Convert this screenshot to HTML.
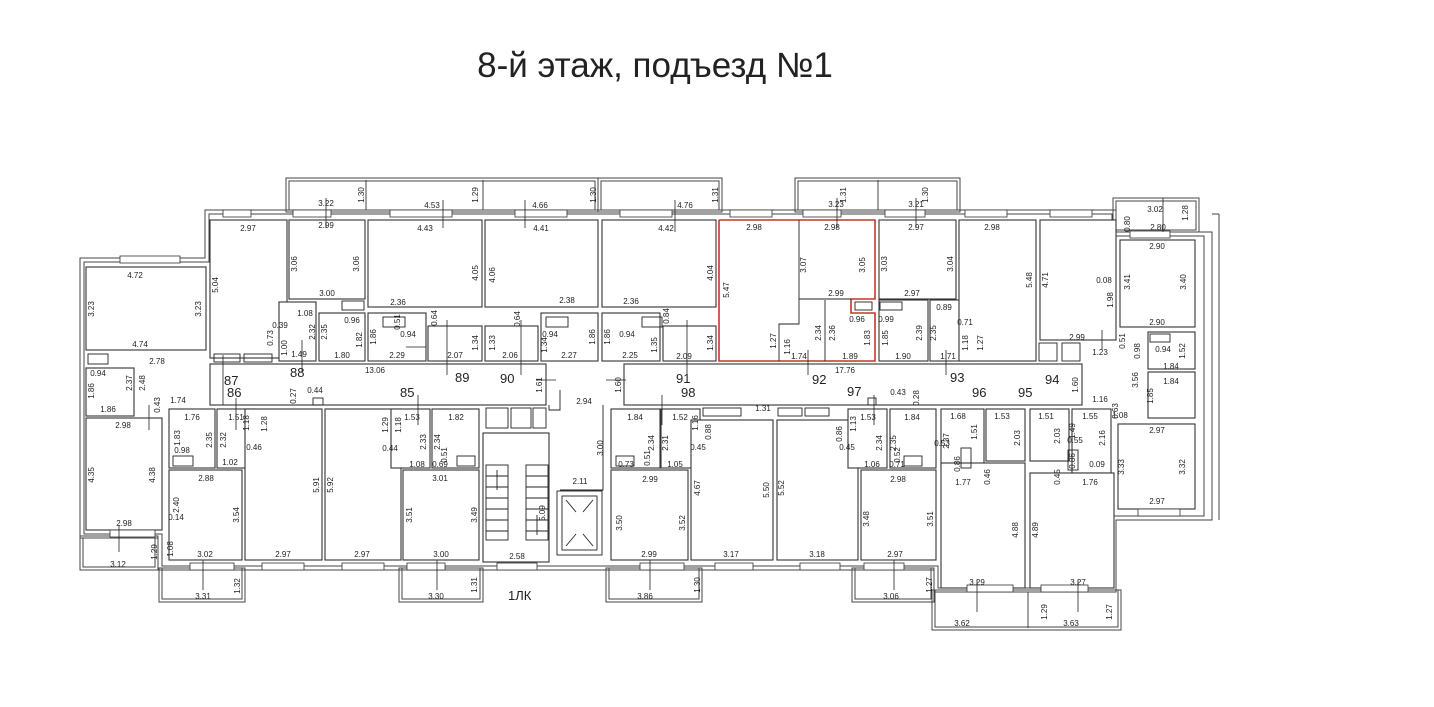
<!DOCTYPE html>
<html><head><meta charset="utf-8"><style>
html,body{margin:0;padding:0;background:#fff;}
svg{display:block;}
text{font-family:"Liberation Sans",sans-serif;fill:#222;}
.d{font-size:8px;}
.n{font-size:13px;}
.r{fill:#fff;stroke:#333;stroke-width:1.1;}
.w{fill:none;stroke:#444;stroke-width:1;}
.t{fill:none;stroke:#222;stroke-width:0.9;}
</style></head><body>
<svg width="1434" height="707" viewBox="0 0 1434 707" xmlns="http://www.w3.org/2000/svg">
<text x="655" y="77" font-size="35" text-anchor="middle">8-й этаж, подъезд №1</text>

<!-- balconies -->
<g class="w">
<rect x="286" y="178" width="312" height="34"/><rect x="289" y="181" width="306" height="29"/>
<line x1="366" y1="180" x2="366" y2="210"/><line x1="483" y1="180" x2="483" y2="210"/>
<rect x="598" y="178" width="124" height="34"/><rect x="601" y="181" width="118" height="29"/>
<rect x="795" y="178" width="165" height="34"/><rect x="798" y="181" width="159" height="29"/><line x1="878" y1="180" x2="878" y2="210"/>
<rect x="1113" y="198" width="86" height="34"/><rect x="1116" y="201" width="80" height="29"/>
<rect x="80" y="536" width="78" height="34"/><rect x="83" y="538" width="72" height="29"/>
<rect x="159" y="568" width="86" height="34"/><rect x="162" y="568" width="80" height="31"/>
<rect x="399" y="568" width="84" height="34"/><rect x="402" y="568" width="78" height="31"/>
<rect x="606" y="568" width="96" height="34"/><rect x="609" y="568" width="90" height="31"/>
<rect x="852" y="568" width="82" height="34"/><rect x="855" y="568" width="76" height="31"/>
<rect x="932" y="590" width="189" height="40"/><rect x="935" y="590" width="183" height="37"/><line x1="1028" y1="592" x2="1028" y2="628"/>
</g>

<!-- building outline -->
<polygon class="w" points="205,210 1116,210 1116,232 1212,232 1212,520 1116,520 1116,592 934,592 934,570 158,570 158,538 80,538 80,258 205,258"/>
<polygon class="w" points="209,214 1112,214 1112,236 1204,236 1204,516 1112,516 1112,588 938,588 938,566 162,566 162,534 84,534 84,262 209,262"/>
<line class="w" x1="1212" y1="214" x2="1219" y2="214"/>
<line class="w" x1="1219" y1="214" x2="1219" y2="520"/>

<!-- rooms -->
<g class="r">
<rect x="86" y="267" width="120" height="83"/>
<rect x="86" y="368" width="48" height="48"/>
<rect x="86" y="418" width="76" height="112"/>
<rect x="210" y="220" width="77" height="138"/>
<rect x="289" y="220" width="76" height="79"/>
<rect x="368" y="220" width="114" height="87"/>
<rect x="485" y="220" width="113" height="87"/>
<rect x="602" y="220" width="114" height="87"/>
<rect x="279" y="302" width="37" height="59"/>
<rect x="319" y="313" width="46" height="48"/>
<rect x="368" y="313" width="58" height="48"/>
<rect x="428" y="326" width="54" height="35"/>
<rect x="485" y="326" width="53" height="35"/>
<rect x="541" y="313" width="57" height="48"/>
<rect x="602" y="313" width="58" height="48"/>
<rect x="663" y="326" width="53" height="35"/>
<rect x="879" y="220" width="77" height="79"/>
<rect x="879" y="300" width="49" height="61"/>
<rect x="930" y="300" width="45" height="61"/>
<rect x="959" y="220" width="77" height="141"/>
<rect x="1040" y="220" width="76" height="120"/>
<rect x="1120" y="240" width="75" height="87"/>
<rect x="1148" y="332" width="47" height="37"/>
<rect x="1148" y="372" width="47" height="46"/>
<rect x="1118" y="424" width="77" height="85"/>
<!-- corridor -->
<rect x="210" y="364" width="336" height="41"/>
<rect x="624" y="364" width="458" height="41"/>
<!-- lower -->
<rect x="169" y="409" width="46" height="59"/>
<rect x="217" y="409" width="38" height="59"/>
<rect x="169" y="470" width="73" height="90"/>
<rect x="245" y="409" width="77" height="151"/>
<rect x="325" y="409" width="76" height="151"/>
<rect x="391" y="409" width="39" height="59"/>
<rect x="432" y="409" width="47" height="59"/>
<rect x="403" y="470" width="76" height="90"/>
<rect x="483" y="433" width="66" height="129"/>
<rect x="611" y="409" width="49" height="59"/>
<rect x="661" y="409" width="39" height="59"/>
<rect x="611" y="470" width="77" height="90"/>
<rect x="691" y="420" width="82" height="140"/>
<rect x="777" y="420" width="81" height="140"/>
<rect x="848" y="409" width="39" height="59"/>
<rect x="890" y="409" width="46" height="59"/>
<rect x="861" y="470" width="75" height="90"/>
<rect x="941" y="409" width="43" height="59"/>
<rect x="986" y="409" width="39" height="52"/>
<rect x="941" y="463" width="84" height="125"/>
<rect x="1030" y="409" width="39" height="52"/>
<rect x="1072" y="409" width="39" height="64"/>
<rect x="1030" y="473" width="84" height="115"/>
</g>
<!-- red room -->
<g fill="none" stroke="#c0392b" stroke-width="1.6">
<polyline points="719,220 875,220 875,299 851,299 851,313 875,313 875,361 719,361 719,220"/>
</g>
<g class="t">
<line x1="799" y1="220" x2="799" y2="299"/><line x1="799" y1="299" x2="851" y2="299"/>
<polyline points="799,299 799,324 779,324 779,361"/>
<line x1="825" y1="300" x2="825" y2="361"/>
<rect x="88" y="354" width="20" height="10"/><rect x="214" y="354" width="26" height="8"/><rect x="244" y="354" width="28" height="8"/>
<rect x="342" y="301" width="22" height="9"/><rect x="383" y="317" width="22" height="10"/><rect x="546" y="317" width="22" height="10"/><rect x="642" y="317" width="20" height="10"/>
<rect x="855" y="302" width="17" height="8"/><rect x="880" y="302" width="22" height="8"/>
<rect x="1039" y="343" width="18" height="18"/><rect x="1062" y="343" width="18" height="18"/>
<rect x="1150" y="334" width="20" height="8"/>
<rect x="486" y="408" width="22" height="20"/><rect x="511" y="408" width="20" height="20"/><rect x="533" y="408" width="13" height="20"/>
<rect x="703" y="408" width="38" height="8"/><rect x="778" y="408" width="24" height="8"/><rect x="805" y="408" width="24" height="8"/>
<rect x="173" y="456" width="20" height="10"/><rect x="457" y="456" width="18" height="10"/><rect x="616" y="456" width="18" height="10"/><rect x="904" y="456" width="18" height="10"/>
<rect x="961" y="448" width="10" height="20"/><rect x="1068" y="450" width="10" height="20"/>
<rect x="313" y="398" width="10" height="7"/><rect x="868" y="398" width="8" height="7"/>
<rect x="486" y="465" width="22" height="75"/><rect x="526" y="465" width="22" height="75"/>
<line x1="486" y1="476" x2="508" y2="476"/><line x1="486" y1="487" x2="508" y2="487"/><line x1="486" y1="498" x2="508" y2="498"/><line x1="486" y1="509" x2="508" y2="509"/><line x1="486" y1="520" x2="508" y2="520"/><line x1="486" y1="531" x2="508" y2="531"/>
<line x1="526" y1="476" x2="548" y2="476"/><line x1="526" y1="487" x2="548" y2="487"/><line x1="526" y1="498" x2="548" y2="498"/><line x1="526" y1="509" x2="548" y2="509"/><line x1="526" y1="520" x2="548" y2="520"/><line x1="526" y1="531" x2="548" y2="531"/>
<line x1="497" y1="470" x2="497" y2="490"/><line x1="537" y1="515" x2="537" y2="535"/>
<polyline points="549,405 549,410 560,410 560,390"/><polyline points="603,405 603,490 560,490"/>
<rect x="557" y="491" width="45" height="64"/><rect x="562" y="496" width="35" height="54"/>
<line x1="566" y1="500" x2="576" y2="512"/><line x1="593" y1="500" x2="583" y2="512"/><line x1="566" y1="546" x2="576" y2="534"/><line x1="593" y1="546" x2="583" y2="534"/>
</g>
<g fill="#fff" stroke="#333" stroke-width="0.8">
<rect x="120" y="256" width="60" height="7"/><rect x="223" y="210" width="28" height="7"/><rect x="293" y="210" width="38" height="7"/><rect x="390" y="210" width="62" height="7"/>
<rect x="515" y="210" width="52" height="7"/><rect x="620" y="210" width="52" height="7"/><rect x="730" y="210" width="42" height="7"/><rect x="803" y="210" width="38" height="7"/>
<rect x="885" y="210" width="40" height="7"/><rect x="965" y="210" width="42" height="7"/><rect x="1050" y="210" width="42" height="7"/><rect x="1130" y="231" width="40" height="7"/>
<rect x="110" y="530" width="45" height="7"/><rect x="190" y="563" width="44" height="7"/><rect x="262" y="563" width="42" height="7"/><rect x="342" y="563" width="42" height="7"/>
<rect x="407" y="563" width="38" height="7"/><rect x="497" y="563" width="40" height="7"/><rect x="640" y="563" width="44" height="7"/><rect x="715" y="563" width="38" height="7"/>
<rect x="800" y="563" width="40" height="7"/><rect x="864" y="563" width="40" height="7"/><rect x="967" y="585" width="46" height="7"/><rect x="1041" y="585" width="47" height="7"/>
<rect x="1138" y="509" width="42" height="7"/>
</g>
<g stroke="#222" stroke-width="0.8">
<line x1="326" y1="198" x2="326" y2="228"/><line x1="443" y1="200" x2="443" y2="228"/><line x1="525" y1="200" x2="525" y2="228"/><line x1="675" y1="200" x2="675" y2="232"/>
<line x1="837" y1="198" x2="837" y2="228"/><line x1="916" y1="198" x2="916" y2="228"/><line x1="1163" y1="198" x2="1163" y2="232"/>
<line x1="223" y1="355" x2="223" y2="405"/><line x1="302" y1="340" x2="302" y2="372"/><line x1="447" y1="320" x2="447" y2="375"/><line x1="521" y1="320" x2="521" y2="375"/>
<line x1="687" y1="320" x2="687" y2="375"/><line x1="808" y1="350" x2="808" y2="375"/><line x1="946" y1="350" x2="946" y2="375"/><line x1="1102" y1="330" x2="1102" y2="350"/>
<line x1="149" y1="405" x2="149" y2="430"/><line x1="236" y1="398" x2="236" y2="430"/><line x1="418" y1="395" x2="418" y2="425"/><line x1="662" y1="395" x2="662" y2="425"/><line x1="874" y1="395" x2="874" y2="425"/>
<line x1="119" y1="525" x2="119" y2="552"/><line x1="203" y1="560" x2="203" y2="590"/><line x1="437" y1="560" x2="437" y2="590"/><line x1="650" y1="560" x2="650" y2="590"/><line x1="894" y1="560" x2="894" y2="590"/>
<line x1="977" y1="580" x2="977" y2="612"/><line x1="1078" y1="580" x2="1078" y2="612"/>
<line x1="406" y1="347" x2="426" y2="347"/><line x1="536" y1="380" x2="556" y2="380"/><line x1="606" y1="380" x2="626" y2="380"/>
</g>

<g class="n">
<text x="224" y="385">87</text><text x="227" y="397">86</text><text x="290" y="377">88</text><text x="400" y="397">85</text>
<text x="455" y="382">89</text><text x="500" y="383">90</text><text x="676" y="383">91</text><text x="681" y="397">98</text>
<text x="812" y="384">92</text><text x="847" y="396">97</text><text x="950" y="382">93</text><text x="972" y="397">96</text>
<text x="1018" y="397">95</text><text x="1045" y="384">94</text>
<text x="508" y="600">1ЛК</text>
</g>
<g class="d" text-anchor="middle">
<text x="135" y="278">4.72</text><text x="140" y="347">4.74</text><text x="98" y="376">0.94</text><text x="108" y="412">1.86</text><text x="157" y="364">2.78</text><text x="178" y="403">1.74</text>
<text x="123" y="428">2.98</text><text x="124" y="526">2.98</text><text x="118" y="567">3.12</text>
<text x="248" y="231">2.97</text><text x="326" y="206">3.22</text><text x="326" y="228">2.99</text><text x="327" y="296">3.00</text>
<text x="432" y="208">4.53</text><text x="425" y="231">4.43</text><text x="398" y="305">2.36</text><text x="540" y="208">4.66</text><text x="541" y="231">4.41</text><text x="567" y="303">2.38</text>
<text x="685" y="208">4.76</text><text x="666" y="231">4.42</text><text x="631" y="304">2.36</text>
<text x="305" y="316">1.08</text><text x="352" y="323">0.96</text><text x="280" y="328">0.39</text><text x="299" y="357">1.49</text><text x="342" y="358">1.80</text>
<text x="408" y="337">0.94</text><text x="397" y="358">2.29</text><text x="455" y="358">2.07</text><text x="510" y="358">2.06</text><text x="550" y="337">0.94</text><text x="569" y="358">2.27</text>
<text x="627" y="337">0.94</text><text x="630" y="358">2.25</text><text x="684" y="359">2.09</text><text x="375" y="373">13.06</text>
<text x="754" y="230">2.98</text><text x="832" y="230">2.98</text><text x="836" y="207">3.23</text><text x="836" y="296">2.99</text><text x="857" y="322">0.96</text><text x="799" y="359">1.74</text><text x="850" y="359">1.89</text><text x="845" y="373">17.76</text>
<text x="916" y="207">3.21</text><text x="916" y="230">2.97</text><text x="912" y="296">2.97</text><text x="886" y="322">0.99</text><text x="944" y="310">0.89</text><text x="965" y="325">0.71</text><text x="903" y="359">1.90</text><text x="948" y="359">1.71</text>
<text x="992" y="230">2.98</text><text x="1077" y="340">2.99</text><text x="1104" y="283">0.08</text><text x="1100" y="355">1.23</text>
<text x="1155" y="212">3.02</text><text x="1158" y="230">2.80</text><text x="1157" y="249">2.90</text><text x="1157" y="325">2.90</text><text x="1163" y="352">0.94</text><text x="1171" y="369">1.84</text><text x="1171" y="384">1.84</text><text x="1100" y="402">1.16</text><text x="1120" y="418">1.08</text><text x="1157" y="433">2.97</text><text x="1157" y="504">2.97</text>
<text x="192" y="420">1.76</text><text x="236" y="420">1.51</text><text x="182" y="453">0.98</text><text x="230" y="465">1.02</text><text x="254" y="450">0.46</text><text x="206" y="481">2.88</text><text x="176" y="520">0.14</text><text x="205" y="557">3.02</text><text x="203" y="599">3.31</text>
<text x="283" y="557">2.97</text><text x="362" y="557">2.97</text><text x="315" y="393">0.44</text><text x="412" y="420">1.53</text><text x="456" y="420">1.82</text><text x="390" y="451">0.44</text><text x="417" y="467">1.08</text><text x="440" y="467">0.69</text><text x="440" y="481">3.01</text><text x="441" y="557">3.00</text><text x="436" y="599">3.30</text>
<text x="584" y="404">2.94</text><text x="580" y="484">2.11</text><text x="517" y="559">2.58</text>
<text x="635" y="420">1.84</text><text x="680" y="420">1.52</text><text x="626" y="467">0.73</text><text x="675" y="467">1.05</text><text x="698" y="450">0.45</text><text x="650" y="482">2.99</text><text x="649" y="557">2.99</text><text x="645" y="599">3.86</text>
<text x="731" y="557">3.17</text><text x="817" y="557">3.18</text><text x="763" y="411">1.31</text><text x="868" y="420">1.53</text><text x="912" y="420">1.84</text><text x="847" y="450">0.45</text><text x="872" y="467">1.06</text><text x="897" y="467">0.71</text><text x="898" y="482">2.98</text><text x="895" y="557">2.97</text><text x="891" y="599">3.06</text>
<text x="898" y="395">0.43</text><text x="958" y="419">1.68</text><text x="1002" y="419">1.53</text><text x="942" y="446">0.53</text><text x="963" y="485">1.77</text><text x="977" y="585">3.29</text><text x="962" y="626">3.62</text>
<text x="1046" y="419">1.51</text><text x="1090" y="419">1.55</text><text x="1075" y="443">0.55</text><text x="1097" y="467">0.09</text><text x="1090" y="485">1.76</text><text x="1078" y="585">3.27</text><text x="1071" y="626">3.63</text>
</g>
<g class="d" text-anchor="middle">
<text transform="translate(94,309) rotate(-90)">3.23</text><text transform="translate(201,309) rotate(-90)">3.23</text>
<text transform="translate(94,391) rotate(-90)">1.86</text><text transform="translate(132,383) rotate(-90)">2.37</text><text transform="translate(145,383) rotate(-90)">2.48</text><text transform="translate(160,405) rotate(-90)">0.43</text>
<text transform="translate(94,475) rotate(-90)">4.35</text><text transform="translate(155,475) rotate(-90)">4.38</text><text transform="translate(157,552) rotate(-90)">1.29</text>
<text transform="translate(218,285) rotate(-90)">5.04</text><text transform="translate(297,264) rotate(-90)">3.06</text><text transform="translate(359,264) rotate(-90)">3.06</text><text transform="translate(364,195) rotate(-90)">1.30</text>
<text transform="translate(273,338) rotate(-90)">0.73</text><text transform="translate(287,348) rotate(-90)">1.00</text><text transform="translate(315,332) rotate(-90)">2.32</text><text transform="translate(327,332) rotate(-90)">2.35</text><text transform="translate(362,340) rotate(-90)">1.82</text>
<text transform="translate(478,195) rotate(-90)">1.29</text><text transform="translate(478,273) rotate(-90)">4.05</text><text transform="translate(376,337) rotate(-90)">1.86</text><text transform="translate(400,322) rotate(-90)">0.51</text><text transform="translate(437,318) rotate(-90)">0.64</text><text transform="translate(478,343) rotate(-90)">1.34</text>
<text transform="translate(495,275) rotate(-90)">4.06</text><text transform="translate(495,343) rotate(-90)">1.33</text><text transform="translate(520,319) rotate(-90)">0.64</text><text transform="translate(547,345) rotate(-90)">1.34</text><text transform="translate(595,337) rotate(-90)">1.86</text><text transform="translate(596,195) rotate(-90)">1.30</text>
<text transform="translate(610,337) rotate(-90)">1.86</text><text transform="translate(657,345) rotate(-90)">1.35</text><text transform="translate(669,316) rotate(-90)">0.84</text><text transform="translate(713,343) rotate(-90)">1.34</text><text transform="translate(713,273) rotate(-90)">4.04</text><text transform="translate(718,195) rotate(-90)">1.31</text>
<text transform="translate(729,290) rotate(-90)">5.47</text><text transform="translate(806,265) rotate(-90)">3.07</text><text transform="translate(865,265) rotate(-90)">3.05</text><text transform="translate(846,195) rotate(-90)">1.31</text><text transform="translate(776,341) rotate(-90)">1.27</text><text transform="translate(790,347) rotate(-90)">1.16</text><text transform="translate(821,333) rotate(-90)">2.34</text><text transform="translate(835,333) rotate(-90)">2.36</text><text transform="translate(870,338) rotate(-90)">1.83</text>
<text transform="translate(887,264) rotate(-90)">3.03</text><text transform="translate(953,264) rotate(-90)">3.04</text><text transform="translate(928,195) rotate(-90)">1.30</text><text transform="translate(888,338) rotate(-90)">1.85</text><text transform="translate(922,333) rotate(-90)">2.39</text><text transform="translate(936,333) rotate(-90)">2.35</text><text transform="translate(968,343) rotate(-90)">1.18</text><text transform="translate(983,343) rotate(-90)">1.27</text>
<text transform="translate(1032,280) rotate(-90)">5.48</text><text transform="translate(1048,280) rotate(-90)">4.71</text><text transform="translate(1113,300) rotate(-90)">1.98</text>
<text transform="translate(1130,224) rotate(-90)">0.80</text><text transform="translate(1188,213) rotate(-90)">1.28</text><text transform="translate(1130,282) rotate(-90)">3.41</text><text transform="translate(1186,282) rotate(-90)">3.40</text>
<text transform="translate(1125,341) rotate(-90)">0.51</text><text transform="translate(1140,351) rotate(-90)">0.98</text><text transform="translate(1185,351) rotate(-90)">1.52</text><text transform="translate(1138,380) rotate(-90)">3.56</text><text transform="translate(1153,396) rotate(-90)">1.85</text><text transform="translate(1078,385) rotate(-90)">1.60</text><text transform="translate(1118,411) rotate(-90)">0.63</text>
<text transform="translate(1124,467) rotate(-90)">3.33</text><text transform="translate(1185,467) rotate(-90)">3.32</text>
<text transform="translate(180,438) rotate(-90)">1.83</text><text transform="translate(212,440) rotate(-90)">2.35</text><text transform="translate(226,440) rotate(-90)">2.32</text><text transform="translate(249,423) rotate(-90)">1.18</text><text transform="translate(267,424) rotate(-90)">1.28</text>
<text transform="translate(179,505) rotate(-90)">2.40</text><text transform="translate(239,515) rotate(-90)">3.54</text><text transform="translate(173,549) rotate(-90)">1.08</text><text transform="translate(319,485) rotate(-90)">5.91</text><text transform="translate(333,485) rotate(-90)">5.92</text><text transform="translate(240,586) rotate(-90)">1.32</text>
<text transform="translate(388,425) rotate(-90)">1.29</text><text transform="translate(401,425) rotate(-90)">1.18</text><text transform="translate(426,442) rotate(-90)">2.33</text><text transform="translate(440,442) rotate(-90)">2.34</text><text transform="translate(447,455) rotate(-90)">0.51</text><text transform="translate(412,515) rotate(-90)">3.51</text><text transform="translate(477,515) rotate(-90)">3.49</text><text transform="translate(477,585) rotate(-90)">1.31</text>
<text transform="translate(296,396) rotate(-90)">0.27</text><text transform="translate(542,385) rotate(-90)">1.61</text><text transform="translate(621,385) rotate(-90)">1.60</text><text transform="translate(603,448) rotate(-90)">3.00</text><text transform="translate(545,513) rotate(-90)">5.09</text>
<text transform="translate(622,523) rotate(-90)">3.50</text><text transform="translate(685,523) rotate(-90)">3.52</text><text transform="translate(654,443) rotate(-90)">2.34</text><text transform="translate(668,443) rotate(-90)">2.31</text><text transform="translate(650,458) rotate(-90)">0.51</text><text transform="translate(698,423) rotate(-90)">1.16</text><text transform="translate(711,432) rotate(-90)">0.88</text><text transform="translate(700,488) rotate(-90)">4.67</text><text transform="translate(769,490) rotate(-90)">5.50</text><text transform="translate(700,585) rotate(-90)">1.30</text>
<text transform="translate(784,488) rotate(-90)">5.52</text><text transform="translate(842,434) rotate(-90)">0.86</text><text transform="translate(856,424) rotate(-90)">1.13</text><text transform="translate(882,443) rotate(-90)">2.34</text><text transform="translate(896,443) rotate(-90)">2.35</text><text transform="translate(900,455) rotate(-90)">0.52</text>
<text transform="translate(869,519) rotate(-90)">3.48</text><text transform="translate(933,519) rotate(-90)">3.51</text><text transform="translate(932,585) rotate(-90)">1.27</text><text transform="translate(919,398) rotate(-90)">0.28</text>
<text transform="translate(949,441) rotate(-90)">2.37</text><text transform="translate(977,432) rotate(-90)">1.51</text><text transform="translate(1020,438) rotate(-90)">2.03</text><text transform="translate(960,464) rotate(-90)">0.86</text><text transform="translate(990,477) rotate(-90)">0.46</text><text transform="translate(1018,530) rotate(-90)">4.88</text><text transform="translate(1047,612) rotate(-90)">1.29</text>
<text transform="translate(1060,436) rotate(-90)">2.03</text><text transform="translate(1075,431) rotate(-90)">1.49</text><text transform="translate(1105,438) rotate(-90)">2.16</text><text transform="translate(1075,461) rotate(-90)">0.86</text><text transform="translate(1060,477) rotate(-90)">0.45</text><text transform="translate(1038,530) rotate(-90)">4.89</text><text transform="translate(1112,612) rotate(-90)">1.27</text>
</g>
</svg>
</body></html>
